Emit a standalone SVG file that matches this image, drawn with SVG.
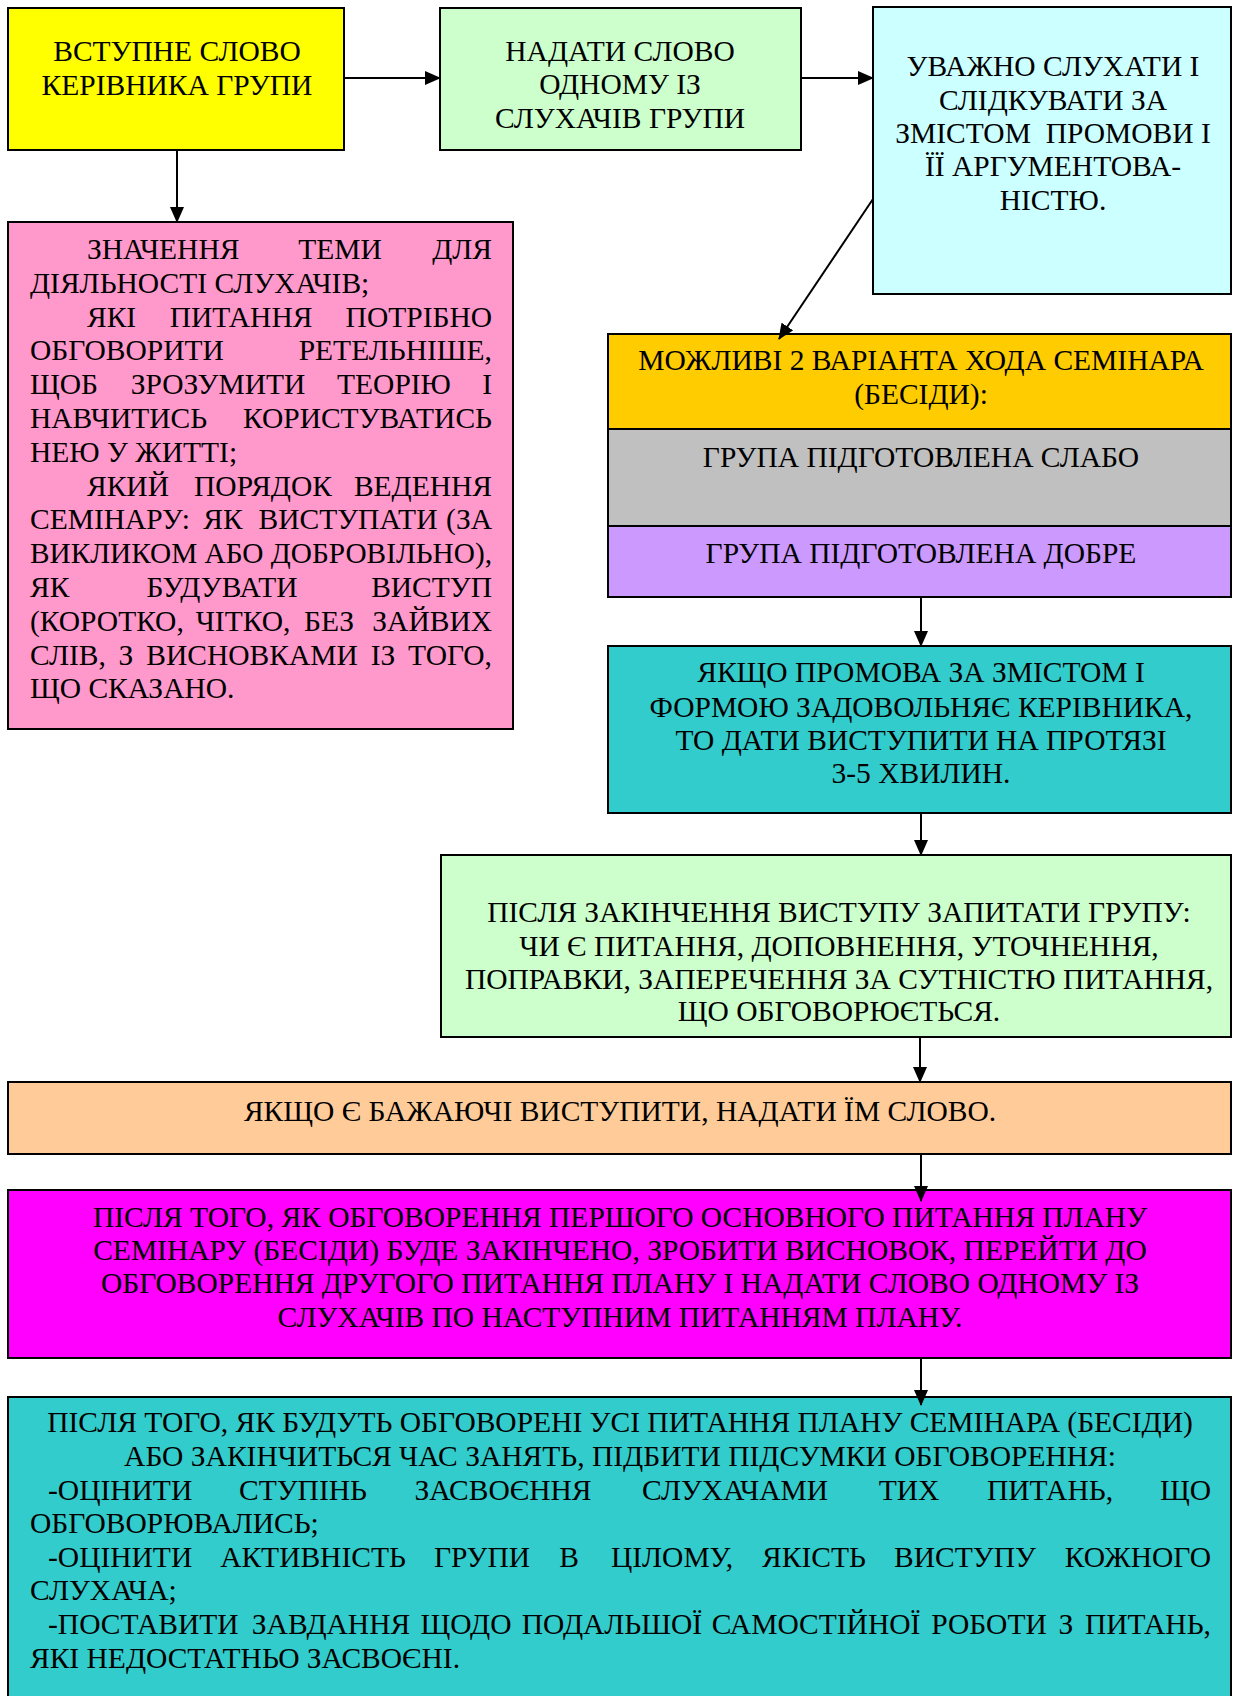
<svg xmlns="http://www.w3.org/2000/svg" width="1233" height="1696" viewBox="0 0 1233 1696">
<style>
.box{stroke:#000;stroke-width:2}
text{font-family:"Liberation Serif","Times New Roman",serif;font-size:29.5px;fill:#000}
.c{text-anchor:middle}
.e{text-anchor:end}
#connectors line{stroke:#000;stroke-width:2;marker-end:url(#arr)}
</style>
<defs>
<marker id="arr" markerUnits="userSpaceOnUse" markerWidth="16" markerHeight="14" refX="15" refY="7" orient="auto">
<path d="M0,0 L16,7 L0,14 z" fill="#000"/>
</marker>
</defs>
<rect width="1233" height="1696" fill="#fff"/>

<g id="n1">
<rect class="box" x="8" y="8" width="336" height="142" fill="#FFFF00"/>
<text class="c" x="177" y="61">ВСТУПНЕ СЛОВО</text>
<text class="c" x="177" y="95">КЕРІВНИКА ГРУПИ</text>
</g>

<g id="n2">
<rect class="box" x="440" y="8" width="361" height="142" fill="#CCFFCC"/>
<text class="c" x="620" y="61">НАДАТИ СЛОВО</text>
<text class="c" x="620" y="94">ОДНОМУ ІЗ</text>
<text class="c" x="620" y="128">СЛУХАЧІВ ГРУПИ</text>
</g>

<g id="n3">
<rect class="box" x="873" y="7" width="358" height="287" fill="#CCFFFF"/>
<text class="c" x="1053" y="76">УВАЖНО СЛУХАТИ І</text>
<text class="c" x="1053" y="109.5">СЛІДКУВАТИ ЗА</text>
<text class="c" x="1053" y="143" xml:space="preserve">ЗМІСТОМ  ПРОМОВИ І</text>
<text class="c" x="1053" y="176">ЇЇ АРГУМЕНТОВА-</text>
<text class="c" x="1053" y="210">НІСТЮ.</text>
</g>

<g id="n4">
<rect class="box" x="8" y="222" width="505" height="507" fill="#FF99CC"/>
<text x="87" y="259">ЗНАЧЕННЯ</text><text class="c" x="340" y="259">ТЕМИ</text><text class="e" x="492" y="259">ДЛЯ</text>
<text x="30" y="292.8">ДІЯЛЬНОСТІ СЛУХАЧІВ;</text>
<text x="87" y="326.6">ЯКІ</text><text class="c" x="241" y="326.6">ПИТАННЯ</text><text class="e" x="492" y="326.6">ПОТРІБНО</text>
<text x="30" y="360.4">ОБГОВОРИТИ</text><text class="e" x="492" y="360.4">РЕТЕЛЬНІШЕ,</text>
<text x="30" y="394.2">ЩОБ</text><text class="c" x="218" y="394.2">ЗРОЗУМИТИ</text><text class="c" x="394" y="394.2">ТЕОРІЮ</text><text class="e" x="492" y="394.2">І</text>
<text x="30" y="428">НАВЧИТИСЬ</text><text class="e" x="492" y="428">КОРИСТУВАТИСЬ</text>
<text x="30" y="461.8">НЕЮ У ЖИТТІ;</text>
<text x="87" y="495.6">ЯКИЙ</text><text class="c" x="263" y="495.6">ПОРЯДОК</text><text class="e" x="492" y="495.6">ВЕДЕННЯ</text>
<text x="30" y="529.4">СЕМІНАРУ:</text><text class="c" x="223" y="529.4">ЯК</text><text class="c" x="348" y="529.4">ВИСТУПАТИ</text><text class="e" x="492" y="529.4">(ЗА</text>
<text x="30" y="563.2" textLength="462" lengthAdjust="spacingAndGlyphs">ВИКЛИКОМ АБО ДОБРОВІЛЬНО),</text>
<text x="30" y="597">ЯК</text><text class="c" x="222" y="597">БУДУВАТИ</text><text class="e" x="492" y="597">ВИСТУП</text>
<text x="30" y="630.8">(КОРОТКО,</text><text class="c" x="243" y="630.8">ЧІТКО,</text><text class="c" x="329" y="630.8">БЕЗ</text><text class="e" x="492" y="630.8">ЗАЙВИХ</text>
<text x="30" y="664.6">СЛІВ,</text><text class="c" x="126" y="664.6">З</text><text class="c" x="252" y="664.6">ВИСНОВКАМИ</text><text class="c" x="383" y="664.6">ІЗ</text><text class="e" x="492" y="664.6">ТОГО,</text>
<text x="30" y="698.4">ЩО СКАЗАНО.</text>
</g>

<g id="n5">
<rect class="box" x="608" y="334" width="623" height="95" fill="#FFCC00"/>
<text class="c" x="921" y="370">МОЖЛИВІ 2 ВАРІАНТА ХОДА СЕМІНАРА</text>
<text class="c" x="921" y="404">(БЕСІДИ):</text>
</g>

<g id="n6">
<rect class="box" x="608" y="429" width="623" height="97" fill="#C0C0C0"/>
<text class="c" x="921" y="467">ГРУПА ПІДГОТОВЛЕНА СЛАБО</text>
</g>

<g id="n7">
<rect class="box" x="608" y="526" width="623" height="71" fill="#CC99FF"/>
<text class="c" x="921" y="563">ГРУПА ПІДГОТОВЛЕНА ДОБРЕ</text>
</g>

<g id="n8">
<rect class="box" x="608" y="646" width="623" height="167" fill="#33CCCC"/>
<text class="c" x="921" y="682">ЯКЩО ПРОМОВА ЗА ЗМІСТОМ І</text>
<text class="c" x="921" y="717">ФОРМОЮ ЗАДОВОЛЬНЯЄ КЕРІВНИКА,</text>
<text class="c" x="921" y="750">ТО ДАТИ ВИСТУПИТИ НА ПРОТЯЗІ</text>
<text class="c" x="921" y="783">3-5 ХВИЛИН.</text>
</g>

<g id="n9">
<rect class="box" x="441" y="855" width="790" height="182" fill="#CCFFCC"/>
<text class="c" x="839" y="922">ПІСЛЯ ЗАКІНЧЕННЯ ВИСТУПУ ЗАПИТАТИ ГРУПУ:</text>
<text class="c" x="839" y="956">ЧИ Є ПИТАННЯ, ДОПОВНЕННЯ, УТОЧНЕННЯ,</text>
<text class="c" x="839" y="989">ПОПРАВКИ, ЗАПЕРЕЧЕННЯ ЗА СУТНІСТЮ ПИТАННЯ,</text>
<text class="c" x="839" y="1021">ЩО ОБГОВОРЮЄТЬСЯ.</text>
</g>

<g id="n10">
<rect class="box" x="8" y="1082" width="1223" height="72" fill="#FFCC99"/>
<text class="c" x="620" y="1121">ЯКЩО Є БАЖАЮЧІ ВИСТУПИТИ, НАДАТИ ЇМ СЛОВО.</text>
</g>

<g id="n11">
<rect class="box" x="8" y="1190" width="1223" height="168" fill="#FF00FF"/>
<text class="c" x="620" y="1227">ПІСЛЯ ТОГО, ЯК ОБГОВОРЕННЯ ПЕРШОГО ОСНОВНОГО ПИТАННЯ ПЛАНУ</text>
<text class="c" x="620" y="1260">СЕМІНАРУ (БЕСІДИ) БУДЕ ЗАКІНЧЕНО, ЗРОБИТИ ВИСНОВОК, ПЕРЕЙТИ ДО</text>
<text class="c" x="620" y="1293">ОБГОВОРЕННЯ ДРУГОГО ПИТАННЯ ПЛАНУ І НАДАТИ СЛОВО ОДНОМУ ІЗ</text>
<text class="c" x="620" y="1327">СЛУХАЧІВ ПО НАСТУПНИМ ПИТАННЯМ ПЛАНУ.</text>
</g>

<g id="n12">
<rect class="box" x="8" y="1397" width="1223" height="310" fill="#33CCCC"/>
<text class="c" x="620" y="1432">ПІСЛЯ ТОГО, ЯК БУДУТЬ ОБГОВОРЕНІ УСІ ПИТАННЯ ПЛАНУ СЕМІНАРА (БЕСІДИ)</text>
<text class="c" x="620" y="1466">АБО ЗАКІНЧИТЬСЯ ЧАС ЗАНЯТЬ, ПІДБИТИ ПІДСУМКИ ОБГОВОРЕННЯ:</text>
<text x="48" y="1500">-ОЦІНИТИ</text><text class="c" x="303" y="1500">СТУПІНЬ</text><text class="c" x="503" y="1500">ЗАСВОЄННЯ</text><text class="c" x="735" y="1500">СЛУХАЧАМИ</text><text class="c" x="909" y="1500">ТИХ</text><text class="c" x="1050" y="1500">ПИТАНЬ,</text><text class="e" x="1211" y="1500">ЩО</text>
<text x="30" y="1533">ОБГОВОРЮВАЛИСЬ;</text>
<text x="48" y="1567">-ОЦІНИТИ</text><text class="c" x="313" y="1567">АКТИВНІСТЬ</text><text class="c" x="482" y="1567">ГРУПИ</text><text class="c" x="569" y="1567">В</text><text class="c" x="672" y="1567">ЦІЛОМУ,</text><text class="c" x="814" y="1567">ЯКІСТЬ</text><text class="c" x="965" y="1567">ВИСТУПУ</text><text class="e" x="1211" y="1567">КОЖНОГО</text>
<text x="30" y="1600">СЛУХАЧА;</text>
<text x="48" y="1634">-ПОСТАВИТИ</text><text class="c" x="331" y="1634">ЗАВДАННЯ</text><text class="c" x="466" y="1634">ЩОДО</text><text class="c" x="612" y="1634">ПОДАЛЬШОЇ</text><text class="c" x="816" y="1634">САМОСТІЙНОЇ</text><text class="c" x="989" y="1634">РОБОТИ</text><text class="c" x="1066" y="1634">З</text><text class="e" x="1211" y="1634">ПИТАНЬ,</text>
<text x="30" y="1668">ЯКІ НЕДОСТАТНЬО ЗАСВОЄНІ.</text>
</g>

<g id="connectors">
<line x1="344" y1="78" x2="440" y2="78"/>
<line x1="801" y1="78" x2="873" y2="78"/>
<line x1="177" y1="150" x2="177" y2="222"/>
<line x1="873" y1="199" x2="779" y2="339"/>
<line x1="921" y1="597" x2="921" y2="646"/>
<line x1="921" y1="813" x2="921" y2="855"/>
<line x1="920" y1="1037" x2="920" y2="1082"/>
<line x1="921" y1="1154" x2="921" y2="1201"/>
<line x1="921" y1="1358" x2="921" y2="1405"/>
</g>
</svg>
